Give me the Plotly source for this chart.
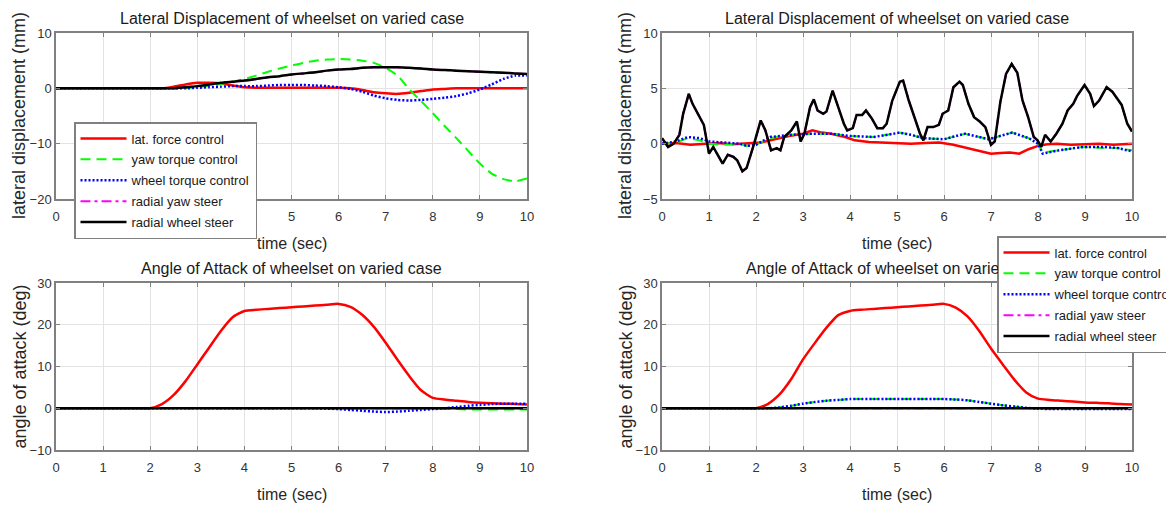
import plotly.graph_objects as go

# sample times (s) for the smooth panels
t = [0, 0.25, 0.5, 0.75, 1, 1.25, 1.5, 1.75, 2, 2.25, 2.5, 2.75, 3, 3.25, 3.5, 3.75,
     4, 4.25, 4.5, 4.75, 5, 5.25, 5.5, 5.75, 6, 6.25, 6.5, 6.75, 7, 7.25, 7.5, 7.75,
     8, 8.25, 8.5, 8.75, 9, 9.25, 9.5, 9.75, 10]

names = ["lat. force control", "yaw torque control", "wheel torque control",
         "radial yaw steer", "radial wheel steer"]

# --- top left: lateral displacement (mm)
lat_tl = [0] * 10 + [0.3, 0.7, 1.0, 1.0, 0.9, 0.5, 0.2, 0.1, 0.1, 0.1, 0.1, 0.1, 0.1,
                     0.1, 0.1, 0.0, -0.3, -0.7, -0.9, -1.0, -0.8, -0.5, -0.2, -0.1, 0.0] + [0] * 6
yaw_tl = [0] * 12 + [0.2, 0.4, 0.8, 1.2, 1.7, 2.3, 3.0, 3.6, 4.1, 4.6, 5.0, 5.2, 5.3, 5.2,
                     5.0, 4.6, 3.7, 2.3, -0.2, -2.3, -4.5, -6.8, -9.0, -11.3, -13.6,
                     -15.4, -16.4, -16.8, -16.3]
wheel_tl = [0] * 12 + [0.1, 0.2, 0.3, 0.4, 0.4, 0.4, 0.5, 0.6, 0.6, 0.6, 0.5, 0.4, 0.2,
                       -0.1, -0.6, -1.3, -1.8, -2.1, -2.2, -2.1, -1.9, -1.7, -1.4, -0.9,
                       -0.2, 0.7, 1.7, 2.3, 2.3]
radwheel_tl = [0] * 11 + [0.2, 0.4, 0.7, 1.0, 1.2, 1.4, 1.7, 2.0, 2.2, 2.5, 2.7, 2.9, 3.2,
                          3.4, 3.5, 3.7, 3.8, 3.8, 3.8, 3.7, 3.6, 3.4, 3.3, 3.2, 3.1, 3.0,
                          2.9, 2.8, 2.7, 2.6]
radyaw_tl = list(radwheel_tl)  # hidden under the black curve

# --- top right: lateral displacement (mm), noisy track
t_black_tr = [0, 0.05, 0.13, 0.25, 0.37, 0.45, 0.57, 0.65, 0.77, 0.89, 1.0, 1.09, 1.29, 1.4,
              1.52, 1.6, 1.71, 1.8, 1.96, 2.1, 2.2, 2.32, 2.44, 2.52, 2.6, 2.75, 2.87, 2.95,
              3.03, 3.15, 3.23, 3.31, 3.43, 3.5, 3.63, 3.75, 3.87, 3.94, 4.06, 4.14, 4.26,
              4.34, 4.46, 4.58, 4.7, 4.78, 4.9, 5.06, 5.13, 5.25, 5.37, 5.49, 5.56, 5.65,
              5.77, 5.89, 5.97, 6.09, 6.2, 6.33, 6.4, 6.52, 6.64, 6.76, 6.88, 7.0, 7.08,
              7.2, 7.32, 7.44, 7.56, 7.67, 7.79, 7.91, 7.99, 8.07, 8.15, 8.27, 8.39, 8.52,
              8.63, 8.75, 8.83, 8.99, 9.11, 9.19, 9.3, 9.46, 9.58, 9.66, 9.78, 9.9, 10.0]
radwheel_tr = [0.5, 0.2, -0.3, 0.0, 0.8, 2.7, 4.5, 3.6, 2.7, 1.7, -0.9, -0.3, -1.8, -1.0,
               -1.2, -1.5, -2.5, -2.2, 0.0, 2.1, 1.2, -0.6, -0.4, -0.6, 0.6, 1.2, 2.0, 0.2,
               0.9, 3.3, 4.0, 3.0, 2.7, 2.9, 4.8, 3.3, 1.8, 1.2, 1.4, 2.6, 2.6, 3.0, 2.3,
               1.4, 1.4, 1.8, 3.9, 5.6, 5.7, 3.9, 2.4, 0.9, 0.3, 1.5, 1.5, 1.7, 2.7, 3.0,
               5.1, 5.6, 5.3, 3.6, 2.4, 2.0, 1.5, -0.1, 0.2, 3.8, 6.3, 7.2, 6.4, 3.9, 2.4,
               0.6, 0.3, -0.3, 0.8, 0.2, 0.9, 1.8, 3.0, 3.6, 4.3, 5.3, 4.5, 3.4, 3.9, 5.1,
               4.7, 4.2, 3.5, 1.8, 1.1]
radyaw_tr = list(radwheel_tr)  # hidden under the black curve

t_red_tr = [0, 0.3, 0.6, 0.9, 1.2, 1.5, 1.8, 2.1, 2.4, 2.7, 3.0, 3.2, 3.4, 3.6, 3.9, 4.1,
            4.4, 4.7, 5.0, 5.3, 5.6, 5.9, 6.2, 6.5, 6.8, 7.0, 7.2, 7.4, 7.6, 7.8, 8.0, 8.2,
            8.4, 8.7, 9.0, 9.3, 9.6, 10.0]
lat_tr = [0, 0.05, -0.1, 0, 0.05, -0.05, 0, 0.1, 0.4, 0.7, 0.9, 1.2, 1.0, 0.9, 0.6, 0.3,
          0.15, 0.1, 0.1, 0.0, 0.05, 0.1, -0.1, -0.4, -0.7, -0.9, -0.85, -0.8, -0.9, -0.5,
          -0.2, -0.05, 0.0, -0.1, -0.05, 0.0, -0.1, 0.0]

t_ctrl_tr = [0, 0.3, 0.55, 0.8, 1.0, 1.3, 1.65, 1.8, 2.0, 2.3, 2.75, 3.2, 3.6, 4.0, 4.5,
             4.8, 5.05, 5.3, 5.55, 6.0, 6.45, 6.95, 7.45, 7.8, 8.0, 8.1, 8.45, 8.95, 9.4,
             9.7, 10.0]
wheel_tr = [0, 0.2, 0.6, 0.5, 0.2, 0.1, 0.0, -0.2, -0.1, 0.6, 0.8, 0.9, 0.9, 0.7, 0.6, 0.8,
            1.0, 0.8, 0.5, 0.4, 0.9, 0.4, 1.0, 0.5, 0.0, -0.9, -0.6, -0.3, -0.3, -0.4, -0.7]
yaw_tr = [0, 0.1, 0.5, 0.3, 0.0, -0.1, 0.0, -0.2, -0.1, 0.5, 0.8, 0.9, 0.9, 0.7, 0.6, 0.8,
          1.0, 0.8, 0.5, 0.4, 0.9, 0.4, 1.0, 0.5, 0.0, -0.8, -0.6, -0.3, -0.4, -0.4, -0.6]

# --- bottom left: angle of attack (deg)
lat_bl = [0] * 9 + [1.0, 3.2, 6.5, 10.5, 14.5, 18.5, 21.8, 23.3, 23.6, 23.8, 24.0, 24.2,
                    24.4, 24.6, 24.8, 25.0, 24.3, 22.4, 19.5, 15.7, 11.6, 7.7, 4.3, 2.5,
                    2.1, 1.8, 1.5, 1.3, 1.2, 1.1, 1.0, 0.9]
yaw_bl = [0] * 33 + [-0.1, -0.2, -0.3, -0.3, -0.3, -0.3, -0.3, -0.3]
wheel_bl = [0] * 23 + [-0.1, -0.2, -0.4, -0.6, -0.8, -0.9, -0.8, -0.6, -0.4, -0.2, 0.0,
                       0.3, 0.6, 0.8, 1.0, 1.1, 1.1, 1.1]
radyaw_bl = [0] * 41
radwheel_bl = [0] * 41

# --- bottom right: angle of attack (deg)
lat_br = [0] * 9 + [1.0, 3.3, 7.0, 11.7, 15.6, 19.3, 22.3, 23.3, 23.6, 23.8, 24.0, 24.2,
                    24.4, 24.6, 24.8, 25.0, 24.1, 22.0, 18.5, 14.3, 10.5, 6.8, 3.8, 2.3,
                    2.0, 1.8, 1.6, 1.4, 1.3, 1.2, 1.0, 0.9]
wheel_br = [0] * 10 + [0.2, 0.6, 1.1, 1.5, 1.8, 2.0, 2.2] + [2.2] * 8 + \
           [2.1, 1.9, 1.5, 1.1, 0.7, 0.4, 0.1, -0.1] + [-0.2] * 8
yaw_br = list(wheel_br)
radyaw_br = [0] * 41
radwheel_br = [0] * 41

# the page puts the figure 8px in from the top-left corner, so positions below are
# given in window pixels and shifted by OFF
OFF = 8
W, H = 1174 - OFF, 506 - OFF
FONT = "Liberation Sans, Arial, sans-serif"

styles = [
    dict(color="#ff0000", width=2.5),
    dict(color="#00ff00", width=2, dash="10px,6px"),
    dict(color="#0000ff", width=2.5, dash="2px,2px"),
    dict(color="#ff00ff", width=2, dash="10px,4px,3px,4px"),
    dict(color="#000000", width=2.5),
]

fig = go.Figure()

panels = [
    ("x", "y", [(t, lat_tl), (t, yaw_tl), (t, wheel_tl), (t, radyaw_tl), (t, radwheel_tl)], "spline", "legend"),
    ("x2", "y2", [(t_red_tr, lat_tr), (t_ctrl_tr, yaw_tr), (t_ctrl_tr, wheel_tr),
                  (t_black_tr, radyaw_tr), (t_black_tr, radwheel_tr)], "linear", None),
    ("x3", "y3", [(t, lat_bl), (t, yaw_bl), (t, wheel_bl), (t, radyaw_bl), (t, radwheel_bl)], "spline", None),
    ("x4", "y4", [(t, lat_br), (t, yaw_br), (t, wheel_br), (t, radyaw_br), (t, radwheel_br)], "spline", "legend2"),
]

for xa, ya, series, shape, leg in panels:
    for i, ((xs, ys), name, st) in enumerate(zip(series, names, styles)):
        line = dict(shape=shape, smoothing=0.6, **st) if shape == "spline" else dict(**st)
        fig.add_trace(go.Scatter(
            x=xs, y=ys, mode="lines", name=name, xaxis=xa, yaxis=ya, line=line,
            showlegend=leg is not None, legend=leg if leg else "legend",
            legendgroup="%s_%d" % (leg, i) if leg else None))


def px(v):
    return v - OFF


def dom_x(a, b):
    return [px(a) / W, px(b) / W]


def dom_y(top, bottom):
    return [1 - px(bottom) / H, 1 - px(top) / H]


axis_common = dict(
    showgrid=True, gridcolor="#e3e3e3", gridwidth=1, zeroline=False,
    showline=True, linecolor="#808080", linewidth=1.5, mirror="ticks",
    ticks="inside", ticklen=4, tickcolor="#808080",
    tickfont=dict(family=FONT, size=13, color="#333333"),
)

L1, R1, L2, R2 = 56, 527, 662, 1132
T1, B1, T2, B2 = 33, 199, 283, 450

layout_axes = {
    "xaxis": dict(domain=dom_x(L1, R1), anchor="y", range=[0, 10], dtick=1),
    "yaxis": dict(domain=dom_y(T1, B1), anchor="x", range=[-20, 10], dtick=10),
    "xaxis2": dict(domain=dom_x(L2, R2), anchor="y2", range=[0, 10], dtick=1),
    "yaxis2": dict(domain=dom_y(T1, B1), anchor="x2", range=[-5, 10], dtick=5),
    "xaxis3": dict(domain=dom_x(L1, R1), anchor="y3", range=[0, 10], dtick=1),
    "yaxis3": dict(domain=dom_y(T2, B2), anchor="x3", range=[-10, 30], dtick=10),
    "xaxis4": dict(domain=dom_x(L2, R2), anchor="y4", range=[0, 10], dtick=1),
    "yaxis4": dict(domain=dom_y(T2, B2), anchor="x4", range=[-10, 30], dtick=10),
}
for k, v in layout_axes.items():
    d = dict(axis_common)
    d.update(v)
    if k.startswith("x"):
        d["ticklabelstandoff"] = 5
    layout_axes[k] = d

LEG2_X, LEG2_Y = 997, 236

annotations = []
for (l, r, top, bot, title, ytitle, clip) in [
    (L1, R1, T1, B1, "Lateral Displacement of wheelset on varied case", "lateral displacement (mm)", False),
    (L2, R2, T1, B1, "Lateral Displacement of wheelset on varied case", "lateral displacement (mm)", False),
    (L1, R1, T2, B2, "Angle of Attack of wheelset on varied case", "angle of attack (deg)", False),
    (L2, R2, T2, B2, "Angle of Attack of wheelset on varied case", "angle of attack (deg)", True),
]:
    cx = px((l + r) / 2) / W
    ty = 1 - px(top - 15) / H
    tfont = dict(family=FONT, size=16, color="#1a1a1a")
    if clip:
        # the second legend sits over the end of this title
        x0 = (l + r) / 2 - 152
        annotations.append(dict(text=title, x=px(x0) / W, y=ty, xref="paper", yref="paper",
                                showarrow=False, xanchor="left", yanchor="middle",
                                align="left", width=LEG2_X - x0, borderpad=0, font=tfont))
    else:
        annotations.append(dict(text=title, x=cx, y=ty, xref="paper", yref="paper",
                                showarrow=False, xanchor="center", yanchor="middle",
                                font=tfont))
    annotations.append(dict(text="time (sec)", x=cx, y=1 - px(bot + 44) / H, xref="paper", yref="paper",
                            showarrow=False, xanchor="center", yanchor="middle",
                            font=dict(family=FONT, size=16, color="#262626")))
    annotations.append(dict(text=ytitle, x=px(l - 37) / W, y=1 - px((top + bot) / 2) / H,
                            xref="paper", yref="paper", showarrow=False, textangle=-90,
                            xanchor="center", yanchor="middle",
                            font=dict(family=FONT, size=18, color="#262626")))

legend_style = dict(bgcolor="white", bordercolor="#808080", borderwidth=1.5,
                    font=dict(family=FONT, size=13, color="#1a1a1a"),
                    xanchor="left", yanchor="top", itemwidth=46, tracegroupgap=1,
                    itemclick=False, itemdoubleclick=False)

fig.update_layout(
    width=W, height=H,
    margin=dict(l=0, r=0, t=0, b=0, autoexpand=False),
    paper_bgcolor="white", plot_bgcolor="white",
    showlegend=True,
    legend=dict(x=px(74) / W, y=1 - px(122) / H, **legend_style),
    legend2=dict(x=px(LEG2_X) / W, y=1 - px(LEG2_Y) / H, **legend_style),
    annotations=annotations,
    **layout_axes,
)

fig.write_html("out.html")
